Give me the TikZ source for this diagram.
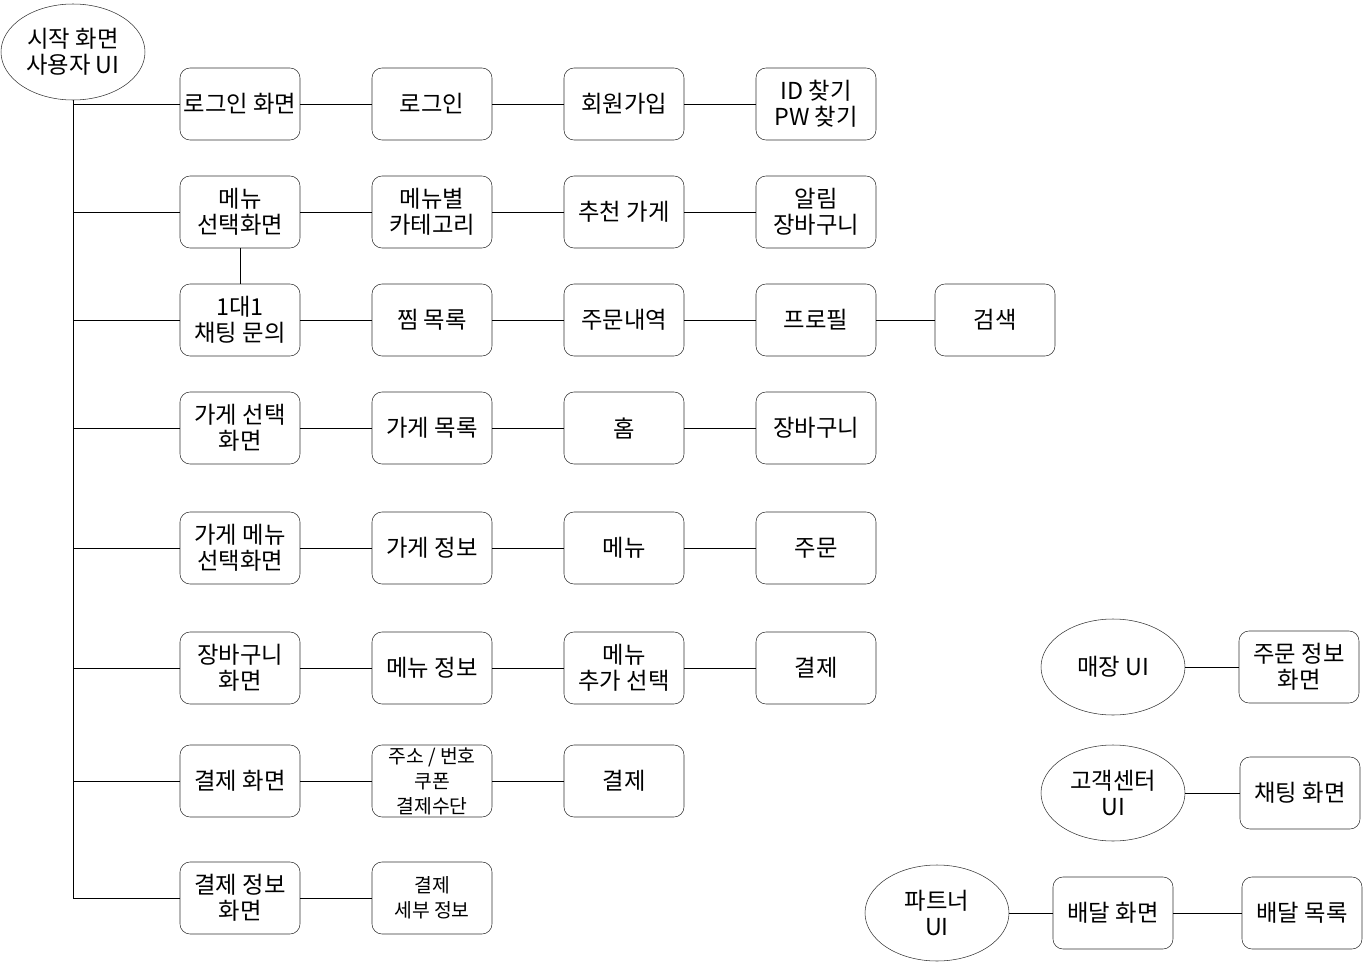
\documentclass[tikz,border=0pt]{standalone}
\usepackage{fontspec}
\setmainfont{Noto Sans CJK KR}
\usetikzlibrary{shapes.geometric}
\usetikzlibrary{positioning}

\begin{document}
\begin{tikzpicture}[x=0.75pt,y=-0.75pt,
    screen/.style={draw=black!80, rectangle, rounded corners=7.5pt, minimum width=90pt, minimum height=54pt, align=center, inner sep=0pt, font=\fontsize{17.5}{19.5}\selectfont},
    small/.style={font=\fontsize{14.5}{18.75}\selectfont},
    ui/.style={draw=black!80, ellipse, minimum width=108pt, minimum height=72pt, align=center, inner sep=0pt, font=\fontsize{17.5}{19.5}\selectfont},
    link/.style={draw=black, line width=0.75pt}]
            \useasboundingbox (0,0) rectangle (1372,967);
            \node[ui] (start) at (73,52) {시작 화면\\사용자 UI};

            \node[screen] (loginscr) at (240,104) {로그인 화면};
            \node[screen] (login) at (432,104) {로그인};
            \node[screen] (signup) at (624,104) {회원가입};
            \node[screen] (findid) at (816,104) {ID 찾기\\PW 찾기};

            \node[screen] (menuscr) at (240,212) {메뉴\\선택화면};
            \node[screen] (menucat) at (432,212) {메뉴별\\카테고리};
            \node[screen] (recommend) at (624,212) {추천 가게};
            \node[screen] (alarm) at (816,212) {알림\\장바구니};

            \node[screen] (chatask) at (240,320) {1대1\\채팅 문의};
            \node[screen] (wishlist) at (432,320) {찜 목록};
            \node[screen] (orders) at (624,320) {주문내역};
            \node[screen] (profile) at (816,320) {프로필};
            \node[screen] (search) at (995,320) {검색};

            \node[screen] (storescr) at (240,428) {가게 선택\\화면};
            \node[screen] (storelist) at (432,428) {가게 목록};
            \node[screen] (home) at (624,428) {홈};
            \node[screen] (cart) at (816,428) {장바구니};

            \node[screen] (storemenu) at (240,548) {가게 메뉴\\선택화면};
            \node[screen] (storeinfo) at (432,548) {가게 정보};
            \node[screen] (menu) at (624,548) {메뉴};
            \node[screen] (order) at (816,548) {주문};

            \node[screen] (cartscr) at (240,668) {장바구니\\화면};
            \node[screen] (menuinfo) at (432,668) {메뉴 정보};
            \node[screen] (menuopt) at (624,668) {메뉴\\추가 선택};
            \node[screen] (pay) at (816,668) {결제};

            \node[screen] (payscr) at (240,781) {결제 화면};
            \node[screen, small] (payopt) at (432,781) {주소 / 번호\\쿠폰\\결제수단};
            \node[screen] (paydone) at (624,781) {결제};

            \node[screen] (payinfo) at (240,898) {결제 정보\\화면};
            \node[screen, small] (paydetail) at (432,898) {결제\\세부 정보};

            \node[ui] (shop) at (1113,667) {매장 UI};
            \node[screen] (orderinfo) at (1299,667) {주문 정보\\화면};
            \node[ui] (cs) at (1113,793) {고객센터\\UI};
            \node[screen] (chatscr) at (1300,793) {채팅 화면};
            \node[ui] (partner) at (937,913) {파트너\\UI};
            \node[screen] (delivscr) at (1113,913) {배달 화면};
            \node[screen] (delivlist) at (1302,913) {배달 목록};

            % trunk from the start screen
            \draw[link] (start.south) -- (start |- payinfo.west) -- (payinfo.west);
            \draw[link] (start |- loginscr.west) -- (loginscr.west);
            \draw[link] (start |- menuscr.west) -- (menuscr.west);
            \draw[link] (start |- chatask.west) -- (chatask.west);
            \draw[link] (start |- storescr.west) -- (storescr.west);
            \draw[link] (start |- storemenu.west) -- (storemenu.west);
            \draw[link] (start |- cartscr.west) -- (cartscr.west);
            \draw[link] (start |- payscr.west) -- (payscr.west);

            \draw[link] (loginscr) -- (login);
            \draw[link] (login) -- (signup);
            \draw[link] (signup) -- (findid);

            \draw[link] (menuscr) -- (menucat);
            \draw[link] (menucat) -- (recommend);
            \draw[link] (recommend) -- (alarm);
            \draw[link] (menuscr) -- (chatask);

            \draw[link] (chatask) -- (wishlist);
            \draw[link] (wishlist) -- (orders);
            \draw[link] (orders) -- (profile);
            \draw[link] (profile) -- (search);

            \draw[link] (storescr) -- (storelist);
            \draw[link] (storelist) -- (home);
            \draw[link] (home) -- (cart);

            \draw[link] (storemenu) -- (storeinfo);
            \draw[link] (storeinfo) -- (menu);
            \draw[link] (menu) -- (order);

            \draw[link] (cartscr) -- (menuinfo);
            \draw[link] (menuinfo) -- (menuopt);
            \draw[link] (menuopt) -- (pay);

            \draw[link] (payscr) -- (payopt);
            \draw[link] (payopt) -- (paydone);

            \draw[link] (payinfo) -- (paydetail);

            % other user interfaces
            \draw[link] (shop) -- (orderinfo);
            \draw[link] (cs) -- (chatscr);
            \draw[link] (partner) -- (delivscr);
            \draw[link] (delivscr) -- (delivlist);
        \end{tikzpicture}
\end{document}
